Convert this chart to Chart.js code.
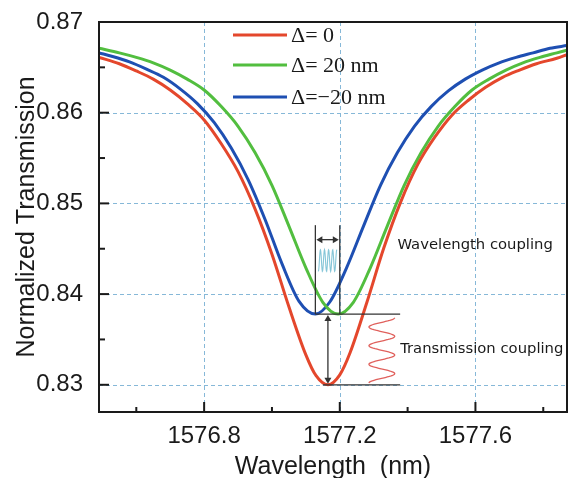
<!DOCTYPE html>
<html lang="en">
<head>
<meta charset="UTF-8">
<title>Normalized Transmission</title>
<script src="https://cdn.jsdelivr.net/npm/chart.js"></script>
<style>
    * { margin: 0; padding: 0; box-sizing: border-box; }
    body { background: #fff; width: 570px; height: 478px; overflow: hidden; }
</style>
</head>
<body>
<canvas id="chart" width="570" height="478"></canvas>
<script>
// series names and colours
var seriesLabels = ['Δ= 0', 'Δ= 20 nm', 'Δ=\u221220 nm'];
var seriesColors = ['#e4472c', '#52be3f', '#1e4fb2'];

// axis ticks
var xTicks = [1576.8, 1577.2, 1577.6];
var xMinorTicks = [1576.6, 1577.0, 1577.4, 1577.8];
var yTicks = [0.83, 0.84, 0.85, 0.86, 0.87];
var yMinorTicks = [0.835, 0.845, 0.855, 0.865];

// Δ = 0
var redX = [1576.49, 1576.55, 1576.6, 1576.65, 1576.7, 1576.75, 1576.8, 1576.85, 1576.9, 1576.95,
            1577.0, 1577.05, 1577.1, 1577.13, 1577.165, 1577.2, 1577.23, 1577.28, 1577.33, 1577.38,
            1577.43, 1577.48, 1577.53, 1577.58, 1577.63, 1577.68, 1577.73, 1577.78, 1577.84, 1577.87];
var redY = [0.8661, 0.8654, 0.8646, 0.8637, 0.8625, 0.8610, 0.8592, 0.8566, 0.8535, 0.8494,
            0.8444, 0.8386, 0.8333, 0.8310, 0.8300, 0.8311, 0.8335, 0.8391, 0.8451, 0.8502,
            0.8543, 0.8573, 0.8597, 0.8614, 0.8628, 0.8639, 0.8647, 0.8654, 0.8660, 0.8664];

// Δ = 20 nm
var greenX = [1576.49, 1576.55, 1576.6, 1576.65, 1576.7, 1576.75, 1576.8, 1576.85, 1576.9, 1576.95,
              1577.0, 1577.05, 1577.1, 1577.15, 1577.195, 1577.24, 1577.29, 1577.34, 1577.39, 1577.44,
              1577.49, 1577.54, 1577.59, 1577.64, 1577.69, 1577.74, 1577.79, 1577.84, 1577.87];
var greenY = [0.8671, 0.8666, 0.8661, 0.8655, 0.8647, 0.8637, 0.8625, 0.8607, 0.8585, 0.8556,
              0.8520, 0.8475, 0.8429, 0.8391, 0.8378, 0.8391, 0.8429, 0.8475, 0.8520, 0.8556,
              0.8585, 0.8607, 0.8625, 0.8637, 0.8647, 0.8655, 0.8661, 0.8666, 0.8669];

// Δ = -20 nm
var blueX = [1576.49, 1576.53, 1576.58, 1576.63, 1576.68, 1576.73, 1576.78, 1576.83, 1576.88, 1576.93,
             1576.98, 1577.03, 1577.08, 1577.128, 1577.17, 1577.22, 1577.27, 1577.32, 1577.37, 1577.42,
             1577.47, 1577.52, 1577.57, 1577.62, 1577.67, 1577.72, 1577.77, 1577.82, 1577.87];
var blueY = [0.8666, 0.8662, 0.8656, 0.8648, 0.8639, 0.8626, 0.8610, 0.8589, 0.8561, 0.8526,
             0.8482, 0.8433, 0.8392, 0.8378, 0.8391, 0.8429, 0.8475, 0.8520, 0.8556, 0.8585,
             0.8607, 0.8624, 0.8637, 0.8647, 0.8655, 0.8661, 0.8666, 0.8671, 0.8674];

function points(xs, ys) {
    return xs.map(function (v, i) { return { x: v, y: ys[i] }; });
}

function line(ctx, x1, y1, x2, y2) {
    ctx.beginPath();
    ctx.moveTo(x1, y1);
    ctx.lineTo(x2, y2);
    ctx.stroke();
}

function arrowHead(ctx, x, y, dir) {
    // dir: 'l', 'r', 'u', 'd'
    var s = 6, w = 3.5;
    ctx.beginPath();
    if (dir === 'l') { ctx.moveTo(x, y); ctx.lineTo(x + s, y - w); ctx.lineTo(x + s, y + w); }
    if (dir === 'r') { ctx.moveTo(x, y); ctx.lineTo(x - s, y - w); ctx.lineTo(x - s, y + w); }
    if (dir === 'u') { ctx.moveTo(x, y); ctx.lineTo(x - w, y + s); ctx.lineTo(x + w, y + s); }
    if (dir === 'd') { ctx.moveTo(x, y); ctx.lineTo(x - w, y - s); ctx.lineTo(x + w, y - s); }
    ctx.closePath();
    ctx.fill();
}

var decorations = {
    id: 'decorations',
    beforeDatasetsDraw: function (chart) {
        var ctx = chart.ctx, a = chart.chartArea;
        var xs = chart.scales.x, ys = chart.scales.y;
        ctx.save();
        ctx.strokeStyle = '#86b8d8';
        ctx.lineWidth = 1;
        ctx.setLineDash([4, 3]);
        xTicks.forEach(function (v) {
            var px = Math.round(xs.getPixelForValue(v)) + 0.5;
            line(ctx, px, a.top, px, a.bottom);
        });
        yTicks.forEach(function (v) {
            if (v >= 0.87) return;
            var py = Math.round(ys.getPixelForValue(v)) + 0.5;
            line(ctx, a.left, py, a.right, py);
        });
        ctx.restore();
    },
    afterDatasetsDraw: function (chart) {
        var ctx = chart.ctx, a = chart.chartArea;
        var xs = chart.scales.x, ys = chart.scales.y;
        var X = function (v) { return xs.getPixelForValue(v); };
        var Y = function (v) { return ys.getPixelForValue(v); };
        ctx.save();

        // frame
        ctx.strokeStyle = '#1a1a1a';
        ctx.lineWidth = 2;
        ctx.strokeRect(a.left, a.top, a.right - a.left, a.bottom - a.top);

        // inward ticks
        ctx.lineWidth = 2;
        yTicks.forEach(function (v) { line(ctx, a.left, Y(v), a.left + 10, Y(v)); });
        yMinorTicks.forEach(function (v) { line(ctx, a.left, Y(v), a.left + 6, Y(v)); });
        xTicks.forEach(function (v) { line(ctx, X(v), a.bottom, X(v), a.bottom - 10); });
        xMinorTicks.forEach(function (v) { line(ctx, X(v), a.bottom, X(v), a.bottom - 5); });

        // legend
        ctx.font = '22px "Liberation Serif", "Times New Roman", serif';
        ctx.textBaseline = 'middle';
        ctx.textAlign = 'left';
        [13, 43, 75].forEach(function (dy, i) {
            var yy = a.top + dy;
            ctx.strokeStyle = seriesColors[i];
            ctx.lineWidth = 3;
            line(ctx, a.left + 134, yy, a.left + 188, yy);
            ctx.fillStyle = '#1a1a1a';
            ctx.fillText(seriesLabels[i], a.left + 192, yy + 1);
        });

        // coupling annotations
        var bx = X(1577.128), gx = X(1577.2), rx = X(1577.165);
        var lvl = Y(0.8378), bot = Y(0.830), top = Y(0.8476), arr = Y(0.8460);
        var endX = X(1577.378);
        ctx.strokeStyle = '#333';
        ctx.fillStyle = '#333';
        ctx.lineWidth = 1.3;
        line(ctx, bx, top, bx, lvl);
        line(ctx, gx, top, gx, lvl);
        line(ctx, bx, lvl, endX, lvl);
        line(ctx, X(1577.15), bot, endX, bot);
        line(ctx, bx + 5, arr, gx - 5, arr);
        arrowHead(ctx, bx + 1, arr, 'l');
        arrowHead(ctx, gx - 1, arr, 'r');
        line(ctx, rx, lvl + 5, rx, bot - 5);
        arrowHead(ctx, rx, lvl + 1, 'u');
        arrowHead(ctx, rx, bot - 1, 'd');

        // small cyan wave between the two minima
        ctx.strokeStyle = '#86c6d8';
        ctx.lineWidth = 1.1;
        ctx.beginPath();
        var wy1 = Y(0.8449), wy2 = Y(0.8425);
        var wx1 = bx + 3, wx2 = gx - 3;
        for (var k = 0; k <= 60; k++) {
            var t = k / 60;
            var px = wx1 + (wx2 - wx1) * t;
            var py = (wy1 + wy2) / 2 + Math.cos(t * Math.PI * 2 * 4.5) * (wy2 - wy1) / 2;
            if (k === 0) ctx.moveTo(px, py); else ctx.lineTo(px, py);
        }
        ctx.stroke();

        // red zigzag
        ctx.strokeStyle = '#e0605c';
        ctx.lineWidth = 1.3;
        ctx.beginPath();
        var zx1 = X(1577.286), zx2 = X(1577.362);
        var zy1 = Y(0.8374), zy2 = Y(0.8302);
        for (var j = 0; j <= 120; j++) {
            var s = j / 120;
            var yy2 = zy1 + (zy2 - zy1) * s;
            var xx2 = (zx1 + zx2) / 2 + Math.cos(s * Math.PI * 2 * 3.5) * (zx2 - zx1) / 2;
            if (j === 0) ctx.moveTo(xx2, yy2); else ctx.lineTo(xx2, yy2);
        }
        ctx.stroke();

        ctx.fillStyle = '#1a1a1a';
        ctx.font = '14.8px "DejaVu Sans", Verdana, sans-serif';
        ctx.textAlign = 'left';
        ctx.fillText('Wavelength coupling', X(1577.37), Y(0.8454));
        ctx.fillText('Transmission coupling', X(1577.378), Y(0.8339));

        // axis titles
        ctx.font = '25px "Liberation Sans", Arial, sans-serif';
        ctx.textAlign = 'center';
        ctx.fillText('Wavelength  (nm)', (a.left + a.right) / 2, 467);
        ctx.translate(27, (a.top + a.bottom) / 2);
        ctx.rotate(-Math.PI / 2);
        ctx.fillText('Normalized Transmission', 0, 0);
        ctx.restore();
    }
};

var datasets = [
    { data: points(redX, redY), borderColor: seriesColors[0] },
    { data: points(greenX, greenY), borderColor: seriesColors[1] },
    { data: points(blueX, blueY), borderColor: seriesColors[2] }
].map(function (d, i) {
    d.label = seriesLabels[i];
    d.borderWidth = 3;
    d.pointRadius = 0;
    d.fill = false;
    d.cubicInterpolationMode = 'monotone';
    return d;
});

var tickFont = { family: '"Liberation Sans", Arial, sans-serif', size: 24 };

function noPadding(axis) {
    axis.paddingTop = 0;
    axis.paddingBottom = 0;
    axis.paddingLeft = 0;
    axis.paddingRight = 0;
}

new Chart(document.getElementById('chart'), {
    type: 'line',
    data: { datasets: datasets },
    options: {
        responsive: false,
        animation: false,
        layout: { padding: { top: 22, right: 3, left: 0, bottom: 0 } },
        plugins: { legend: { display: false }, tooltip: { enabled: false } },
        scales: {
            x: {
                type: 'linear',
                min: 1576.49,
                max: 1577.87,
                afterBuildTicks: function (axis) { axis.ticks = xTicks.map(function (v) { return { value: v }; }); },
                afterFit: function (axis) { axis.height = 66; noPadding(axis); },
                grid: { display: false, drawTicks: false },
                border: { display: false },
                ticks: {
                    padding: 10, color: '#1a1a1a', font: tickFont, maxRotation: 0, autoSkip: false,
                    callback: function (v) { return v.toFixed(1); }
                }
            },
            y: {
                min: 0.827,
                max: 0.87,
                afterBuildTicks: function (axis) { axis.ticks = yTicks.map(function (v) { return { value: v }; }); },
                afterFit: function (axis) { axis.width = 99; noPadding(axis); },
                grid: { display: false, drawTicks: false },
                border: { display: false },
                ticks: {
                    padding: 16, color: '#1a1a1a', font: tickFont, autoSkip: false,
                    callback: function (v) { return v.toFixed(2); }
                }
            }
        }
    },
    plugins: [decorations]
});
</script>
</body>
</html>
